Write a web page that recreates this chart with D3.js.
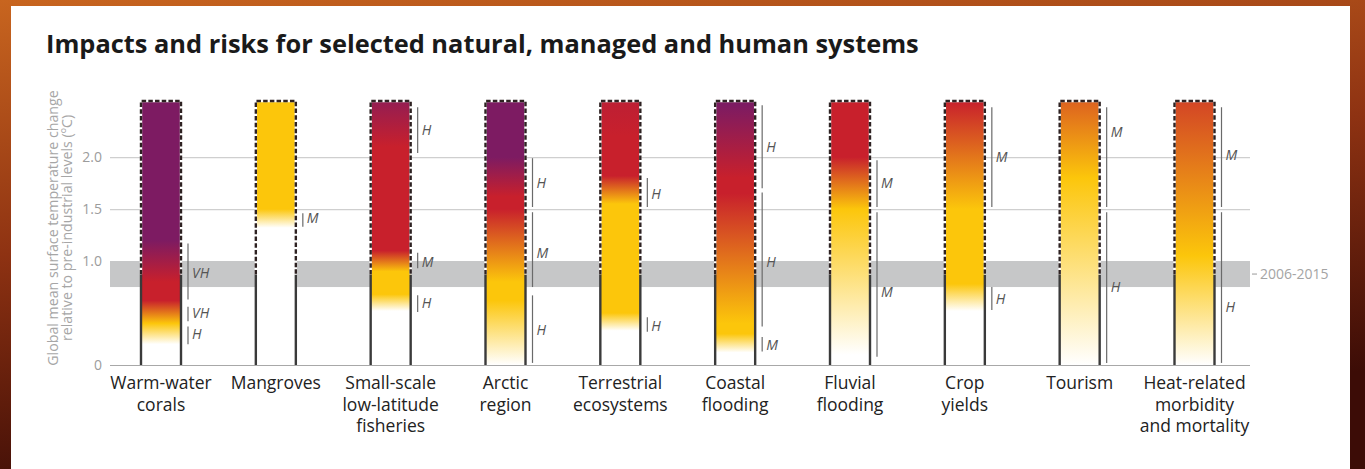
<!DOCTYPE html>
<html><head><meta charset="utf-8">
<script src="https://cdn.jsdelivr.net/npm/d3@7"></script>
<style>
html,body{margin:0;padding:0;background:#6a200c;}
svg{display:block;}
</style></head><body>
<svg id="c" width="1365" height="469"></svg>
<script>
// ---------------- DATA ----------------
const title = "Impacts and risks for selected natural, managed and human systems";
const yTitleLines = ["Global mean surface temperature change", "relative to pre-industrial levels (ºC)"];
const categories = ["Warm-water\ncorals","Mangroves","Small-scale\nlow-latitude\nfisheries","Arctic\nregion","Terrestrial\necosystems","Coastal\nflooding","Fluvial\nflooding","Crop\nyields","Tourism","Heat-related\nmorbidity\nand mortality"];
// risk level stops per category: [temperature ºC, risk level] (0 undetectable, 1 moderate, 2 high, 3 very high)
const riskStops = [
  [[0,0],[0.2,0],[0.4,1],[0.62,2],[0.8,2],[1.2,3],[2.54,3]],
  [[0,0],[1.32,0],[1.5,1],[2.54,1]],
  [[0,0],[0.52,0],[0.68,1],[0.9,1],[1.1,2],[2.1,2],[2.54,2.7]],
  [[0,0],[0.62,1],[0.8,1],[1.5,2],[1.62,2],[2.0,3],[2.54,3]],
  [[0,0],[0.33,0],[0.5,1],[1.55,1],[1.82,2],[2.2,2],[2.54,2.15]],
  [[0,0],[0.12,0],[0.3,1],[0.4,1],[1.65,2],[1.8,2],[2.5,3],[2.54,3]],
  [[0,0],[0.1,0],[1.5,1],[2.0,2],[2.54,2]],
  [[0,0],[0.52,0],[0.78,1],[1.5,1],[2.54,2]],
  [[0,0],[1.8,1],[2.54,1.6]],
  [[0,0],[1.05,1],[2.54,1.78]]
];
// confidence of transitions: [from ºC, to ºC, confidence, label at ºC]
const confidence = [
  [[0.2,0.37,"H",0.3],[0.42,0.56,"VH",0.5],[0.63,1.17,"VH",0.89]],
  [[1.33,1.46,"M",1.41]],
  [[0.51,0.67,"H",0.6],[0.93,1.08,"M",0.99],[2.04,2.48,"H",2.26]],
  [[0.02,0.67,"H",0.34],[0.75,1.47,"M",1.08],[1.52,1.99,"H",1.75]],
  [[0.32,0.46,"H",0.38],[1.52,1.8,"H",1.65]],
  [[0.13,0.27,"M",0.19],[0.37,1.66,"H",0.99],[1.7,2.5,"H",2.1]],
  [[0.08,1.47,"M",0.7],[1.52,1.97,"M",1.75]],
  [[0.53,0.75,"H",0.64],[1.52,2.48,"M",2.0]],
  [[0.02,1.47,"H",0.75],[1.52,2.48,"M",2.24]],
  [[0.02,1.47,"H",0.56],[1.52,2.48,"M",2.02]]
];
const yTicks = [0, 1.0, 1.5, 2.0];
const yTickLabels = ["0", "1.0", "1.5", "2.0"];
const presentBand = [0.75, 1.0];
const presentBandLabel = "2006-2015";
const presentLevel = 0.87;
const assessedMax = 2.54;
const riskLevels = [0, 1, 2, 3];

// ---------------- DRAW ----------------
const svg = d3.select("#c");
const W = 1365, H = 469;
const defs = svg.append("defs");

const fg = defs.append("linearGradient").attr("id","frame").attr("x1",0).attr("y1",0).attr("x2",0.3).attr("y2",1);
fg.append("stop").attr("offset",0).attr("stop-color","#c8651f");
fg.append("stop").attr("offset",0.5).attr("stop-color","#8e3212");
fg.append("stop").attr("offset",1).attr("stop-color","#3c0c06");
svg.append("rect").attr("width",W).attr("height",H).attr("fill","url(#frame)");
svg.append("rect").attr("x",11).attr("y",6).attr("width",1339).attr("height",H-6).attr("fill","#ffffff");

const left = 110, right = 1250;
const y = d3.scaleLinear().domain([0, assessedMax]).range([365, 101]);
const x = d3.scalePoint().domain(categories).range([161, 1194.5]);
const barW = 40;
const color = d3.scaleLinear().domain(riskLevels).range(["#ffffff","#fcc60b","#c8202c","#7d1b62"]).interpolate(d3.interpolateRgb);

// title
svg.append("text").attr("x",46).attr("y",53).text(title)
  .attr("font-family","'Open Sans', sans-serif").attr("font-weight",700).attr("font-size",25.4).attr("fill","#1a1a1a");

// y axis with gridlines
const yAxis = d3.axisLeft(y).tickValues(yTicks).tickFormat((d,i)=>yTickLabels[i]).tickSize(-(right-left)).tickPadding(8);
const ga = svg.append("g").attr("transform",`translate(${left},0)`).call(yAxis);
ga.select(".domain").remove();
ga.selectAll(".tick line").attr("stroke",d=>d===0?"#a8a8a8":"#cfcfcf").attr("stroke-width",1.2);
ga.selectAll(".tick text").attr("font-family","'Open Sans', sans-serif").attr("font-size",14).attr("fill","#9c9c9c");

// present-day band
svg.append("rect").attr("x",left).attr("width",right-left)
  .attr("y",y(presentBand[1])).attr("height",y(presentBand[0])-y(presentBand[1]))
  .attr("fill","#c6c7c8");
const bandMid = (y(presentBand[0])+y(presentBand[1]))/2;
svg.append("line").attr("x1",right+2).attr("x2",right+7).attr("y1",bandMid).attr("y2",bandMid).attr("stroke","#aaa").attr("stroke-width",1.2);
svg.append("text").attr("x",right+10).attr("y",bandMid).attr("dy","0.35em").text(presentBandLabel)
  .attr("font-family","'Open Sans', sans-serif").attr("font-size",14).attr("fill","#a4a4a4");

// y title
const yt = svg.append("g").attr("transform",`translate(0,${(y(0)+y(assessedMax))/2 - 5}) rotate(-90)`);
yTitleLines.forEach((t,i)=>{
  yt.append("text").attr("x",0).attr("y",58 + i*14).attr("text-anchor","middle").text(t)
    .attr("font-family","'Open Sans', sans-serif").attr("font-size",14.2).attr("fill","#a6a6a6");
});

// bars
categories.forEach((c,i)=>{
  const cx = x(c), x0 = cx - barW/2, x1 = cx + barW/2;
  const gid = "g"+i;
  const lg = defs.append("linearGradient").attr("id",gid).attr("gradientUnits","userSpaceOnUse")
    .attr("x1",0).attr("x2",0).attr("y1",y(0)).attr("y2",y(assessedMax));
  riskStops[i].forEach(([t,l])=>{
    lg.append("stop").attr("offset",t/assessedMax).attr("stop-color",color(l));
  });
  svg.append("rect").attr("x",x0).attr("y",y(assessedMax)).attr("width",barW).attr("height",y(0)-y(assessedMax))
    .attr("fill",`url(#${gid})`);
  // outlines
  const g = svg.append("g");
  [x0,x1].forEach(xx=>{
    g.append("line").attr("x1",xx).attr("x2",xx).attr("y1",y(0)).attr("y2",y(presentLevel))
      .attr("stroke","#3a3a3a").attr("stroke-width",2.4);
  });
  const dashedPath = `M${x0},${y(presentLevel)}V${y(assessedMax)}H${x1}V${y(presentLevel)}`;
  g.append("path").attr("d",dashedPath).attr("fill","none").attr("stroke","#ffffff").attr("stroke-width",2.4);
  g.append("path").attr("d",dashedPath).attr("fill","none").attr("stroke","#2e2222").attr("stroke-width",2.4)
    .attr("stroke-dasharray","4.5,2.2");
  // confidence brackets
  const bx = x1 + 7;
  confidence[i].forEach(([a,b,lab,at])=>{
    g.append("line").attr("x1",bx).attr("x2",bx).attr("y1",y(a)).attr("y2",y(b))
      .attr("stroke","#6a6a6a").attr("stroke-width",1.2);
    g.append("text").attr("x",bx+4).attr("y",y(at)).attr("dy","0.36em").text(lab)
      .attr("font-family","'Open Sans', sans-serif").attr("font-style","italic").attr("font-size",14).attr("fill","#555");
  });
  // category label
  const lines = c.split("\n");
  const tx = svg.append("text").attr("text-anchor","middle")
    .attr("font-family","'Open Sans', sans-serif").attr("font-size",17.5).attr("fill","#222");
  lines.forEach((ln,k)=>{
    tx.append("tspan").attr("x",cx).attr("y",389 + k*21.5).text(ln);
  });
});
</script>
</body></html>
